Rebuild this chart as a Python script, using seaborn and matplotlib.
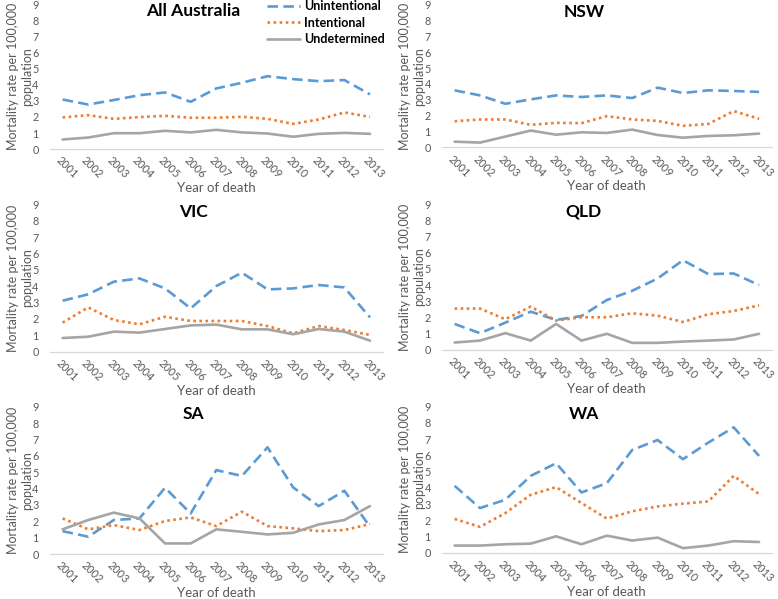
import matplotlib
matplotlib.use("Agg")
import matplotlib.pyplot as plt
import matplotlib.transforms as mtransforms
import seaborn as sns
import pandas as pd

# data
years = list(range(2001, 2014))
series_names = ["Unintentional", "Intentional", "Undetermined"]
regions = ["All Australia", "NSW", "VIC", "QLD", "SA", "WA"]

all_unint = [3.08, 2.77, 3.05, 3.35, 3.52, 2.94, 3.77, 4.12, 4.53, 4.35, 4.22, 4.29, 3.40]
all_int = [1.97, 2.11, 1.88, 1.99, 2.07, 1.95, 1.95, 2.01, 1.88, 1.57, 1.84, 2.28, 2.00]
all_undet = [0.60, 0.72, 0.99, 0.99, 1.14, 1.04, 1.20, 1.04, 0.97, 0.77, 0.95, 1.01, 0.95]

nsw_unint = [3.60, 3.28, 2.75, 3.03, 3.28, 3.18, 3.28, 3.11, 3.77, 3.43, 3.60, 3.56, 3.50]
nsw_int = [1.65, 1.76, 1.76, 1.42, 1.55, 1.53, 1.97, 1.76, 1.67, 1.36, 1.48, 2.29, 1.80]
nsw_undet = [0.36, 0.30, 0.68, 1.06, 0.80, 0.95, 0.91, 1.12, 0.78, 0.61, 0.72, 0.76, 0.87]

vic_unint = [3.11, 3.50, 4.27, 4.47, 3.86, 2.64, 4.00, 4.82, 3.80, 3.86, 4.07, 3.92, 2.09]
vic_int = [1.77, 2.70, 1.93, 1.67, 2.13, 1.87, 1.87, 1.87, 1.56, 1.12, 1.56, 1.32, 1.02]
vic_undet = [0.83, 0.91, 1.22, 1.16, 1.38, 1.60, 1.65, 1.36, 1.36, 1.06, 1.38, 1.22, 0.67]

qld_unint = [1.60, 1.03, 1.68, 2.36, 1.85, 2.09, 3.08, 3.65, 4.41, 5.54, 4.68, 4.72, 4.00]
qld_int = [2.55, 2.55, 1.89, 2.67, 1.81, 2.01, 2.01, 2.26, 2.11, 1.72, 2.20, 2.40, 2.75]
qld_undet = [0.45, 0.57, 1.03, 0.57, 1.60, 0.57, 0.99, 0.43, 0.43, 0.51, 0.57, 0.64, 0.99]

sa_unint = [1.40, 1.06, 2.08, 2.18, 4.05, 2.48, 5.13, 4.77, 6.52, 4.07, 2.93, 3.87, 1.67]
sa_int = [2.18, 1.51, 1.77, 1.47, 2.02, 2.24, 1.71, 2.59, 1.71, 1.57, 1.40, 1.47, 1.83]
sa_undet = [1.51, 2.08, 2.53, 2.18, 0.65, 0.65, 1.51, 1.36, 1.20, 1.30, 1.81, 2.08, 2.93]

wa_unint = [4.13, 2.76, 3.27, 4.74, 5.52, 3.72, 4.29, 6.34, 6.95, 5.77, 6.79, 7.73, 5.97]
wa_int = [2.09, 1.60, 2.45, 3.58, 4.05, 3.07, 2.11, 2.56, 2.86, 3.03, 3.17, 4.74, 3.62]
wa_undet = [0.45, 0.45, 0.53, 0.57, 1.02, 0.53, 1.06, 0.76, 0.94, 0.29, 0.45, 0.72, 0.67]

values = {
    "All Australia": [all_unint, all_int, all_undet],
    "NSW": [nsw_unint, nsw_int, nsw_undet],
    "VIC": [vic_unint, vic_int, vic_undet],
    "QLD": [qld_unint, qld_int, qld_undet],
    "SA": [sa_unint, sa_int, sa_undet],
    "WA": [wa_unint, wa_int, wa_undet],
}

colors = {"Unintentional": "#5B9BD5", "Intentional": "#ED7D31", "Undetermined": "#A5A5A5"}
styles = {"Unintentional": (0, (4, 2)), "Intentional": (0, (1, 1.3)), "Undetermined": "-"}

sns.set_theme(style="white")
plt.rcParams["font.family"] = ["Lato", "DejaVu Sans"]
grey_txt = "#595959"

fig = plt.figure(figsize=(7.78, 5.99), dpi=100)

# axes boxes [left, bottom, width, height] in figure fractions
boxes = [
    [0.064, 0.751, 0.428, 0.242],
    [0.568, 0.754, 0.424, 0.238],
    [0.064, 0.413, 0.428, 0.246],
    [0.568, 0.416, 0.424, 0.243],
    [0.064, 0.075, 0.428, 0.246],
    [0.568, 0.077, 0.424, 0.244],
]

# nudge the slanted year labels a little to the left
shift = mtransforms.ScaledTranslation(-5 / 100, 0, fig.dpi_scale_trans)

for i, region in enumerate(regions):
    ax = fig.add_axes(boxes[i])
    rows = []
    for name, vals in zip(series_names, values[region]):
        for y, v in zip(years, vals):
            rows.append({"year": y, "rate": v, "series": name})
    df = pd.DataFrame(rows)
    for name in series_names:
        sub = df[df["series"] == name]
        sns.lineplot(data=sub, x="year", y="rate", ax=ax, color=colors[name],
                     linestyle=styles[name], linewidth=1.9, label=name,
                     legend=False)

    # category axis: points sit in the middle of each slot
    ax.set_xlim(2000.5, 2013.5)
    ax.set_ylim(0, 9)
    ax.set_yticks(range(0, 10))
    ax.set_xticks(years)
    ax.set_xticklabels([str(y) for y in years], rotation=-45, ha="left",
                       va="center", rotation_mode="anchor")
    ax.tick_params(axis="both", length=0, labelsize=7.8, colors=grey_txt)
    ax.tick_params(axis="x", pad=7)
    ax.tick_params(axis="y", pad=8)
    for lbl in ax.get_xticklabels():
        lbl.set_transform(lbl.get_transform() + shift)
    for s in ["top", "right", "left"]:
        ax.spines[s].set_visible(False)
    ax.spines["bottom"].set_color("#D9D9D9")
    ax.spines["bottom"].set_linewidth(0.9)
    ax.grid(False)

    ax.set_xlabel("Year of death", color=grey_txt, fontsize=9.5, labelpad=1)
    ax.set_ylabel("Mortality rate per 100,000\npopulation", color=grey_txt,
                  fontsize=9, linespacing=1.25)
    ax.yaxis.set_label_coords(-0.05, 0.5)
    ax.text(0.43, 0.95, region, transform=ax.transAxes, ha="center",
            va="center", fontsize=12.5, fontweight="bold", color="black")

    if i == 0:
        leg = ax.legend(loc="upper right", bbox_to_anchor=(1.02, 1.06),
                        frameon=False, fontsize=9, handlelength=2.6,
                        handletextpad=0.3, labelspacing=0.35, borderaxespad=0)
        for t in leg.get_texts():
            t.set_fontweight("bold")
            t.set_color("black")

fig.savefig("out.png", dpi=100)
